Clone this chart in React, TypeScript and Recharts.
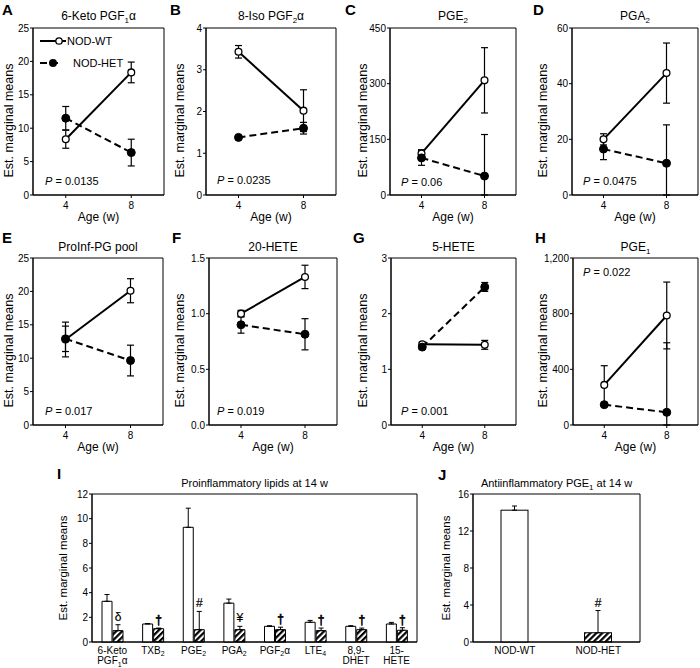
import React from "react";
import {
  LineChart,
  Line,
  BarChart,
  Bar,
  XAxis,
  YAxis,
  ErrorBar,
  Legend,
  LabelList,
  CartesianGrid,
} from "recharts";

const FONT = '"Liberation Sans", Arial, Helvetica, sans-serif';

// sampling ages (weeks) for the time-course panels
const AGES = [4, 8];

// A: 6-Keto PGF1α
const KETO_WT = [8.35, 18.35];
const KETO_WT_ERR = [1.35, 1.55];
const KETO_HET = [11.5, 6.35];
const KETO_HET_ERR = [1.75, 2.0];

// B: 8-Iso PGF2α
const ISO_WT = [3.43, 2.02];
const ISO_WT_ERR = [0.15, 0.5];
const ISO_HET = [1.38, 1.6];
const ISO_HET_ERR = [0.03, 0.14];

// C: PGE2
const PGE2_WT = [112, 309];
const PGE2_WT_ERR = [10, 88];
const PGE2_HET = [100, 51];
const PGE2_HET_ERR = [20, 112];

// D: PGA2
const PGA2_WT = [20, 43.8];
const PGA2_WT_ERR = [2, 10.8];
const PGA2_HET = [16.5, 11.4];
const PGA2_HET_ERR = [3.8, 13.8];

// E: ProInf-PG pool
const POOL_WT = [12.8, 20.1];
const POOL_WT_ERR = [2.6, 1.8];
const POOL_HET = [12.9, 9.65];
const POOL_HET_ERR = [1.9, 2.3];

// F: 20-HETE
const HETE20_WT = [1.0, 1.33];
const HETE20_WT_ERR = [0.03, 0.105];
const HETE20_HET = [0.9, 0.815];
const HETE20_HET_ERR = [0.075, 0.14];

// G: 5-HETE
const HETE5_WT = [1.45, 1.44];
const HETE5_WT_ERR = [0.04, 0.08];
const HETE5_HET = [1.4, 2.48];
const HETE5_HET_ERR = [0.03, 0.08];

// H: PGE1
const PGE1_WT = [288, 787];
const PGE1_WT_ERR = [138, 240];
const PGE1_HET = [146, 91];
const PGE1_HET_ERR = [10, 500];

// I: proinflammatory lipids at 14 w ("|" splits lines, "_x" is a subscript)
const LIPIDS = [
  "6-Keto|PGF_1α",
  "TXB_2",
  "PGE_2",
  "PGA_2",
  "PGF_2α",
  "LTE_4",
  "8,9-|DHET",
  "15-|HETE",
];
const LIPID_WT = [3.3, 1.46, 9.3, 3.15, 1.27, 1.6, 1.27, 1.46];
const LIPID_WT_ERR = [0.55, 0.04, 1.55, 0.33, 0.05, 0.15, 0.05, 0.13];
const LIPID_HET = [0.92, 1.08, 1.0, 1.0, 1.0, 0.92, 1.0, 0.95];
const LIPID_HET_ERR = [0.48, 0.05, 1.48, 0.27, 0.2, 0.21, 0.13, 0.21];
const LIPID_MARKS = ["δ", "†", "#", "¥", "†", "†", "†", "†"];

// J: antiinflammatory PGE1 at 14 w
const GENOTYPES = ["NOD-WT", "NOD-HET"];
const PGE1_14W = [14.25, 1.0];
const PGE1_14W_ERR = [0.45, 2.4];
const PGE1_14W_MARKS = ["", "#"];

// error bars never run below the axis
const errSpan = (v: number, e: number) => [Math.min(v, e), e];

function ageRows(wt: number[], wtErr: number[], het: number[], hetErr: number[]) {
  return AGES.map((age, i) => ({
    age,
    wt: wt[i],
    wtErr: errSpan(wt[i], wtErr[i]),
    het: het[i],
    hetErr: errSpan(het[i], hetErr[i]),
  }));
}

function richText(s: string, size: number) {
  const parts = s.split(/_(.)/);
  return parts.map((p, i) =>
    i % 2 === 1 ? (
      <tspan key={i} dy={2.5} fontSize={size * 0.7}>
        {p}
      </tspan>
    ) : (
      <tspan key={i} dy={i === 0 ? 0 : -2.5}>
        {p}
      </tspan>
    ),
  );
}

function YTitle(props: any) {
  const vb = props.viewBox || { x: 0, y: 0, height: 0 };
  const cx = vb.x + props.inset;
  const cy = vb.y + vb.height / 2 + (props.shift || 0);
  return (
    <text
      x={cx}
      y={cy}
      transform={`rotate(-90 ${cx} ${cy})`}
      textAnchor="middle"
      dominantBaseline="central"
      fontSize={props.size}
      fontFamily={FONT}
      fill="#000"
    >
      Est. marginal means
    </text>
  );
}

// box around the plot area: grid lines only at the plot edges
const edgeRows = (p: any) => [p.offset.top, p.offset.top + p.offset.height];
const edgeCols = (p: any) => [p.offset.left, p.offset.left + p.offset.width];

function GenotypeKey() {
  return (
    <svg width={100} height={40} style={{ display: "block" }}>
      <line x1={2} x2={28} y1={8} y2={8} stroke="#000" strokeWidth={2} />
      <circle cx={21} cy={8} r={3.2} fill="#fff" stroke="#000" strokeWidth={1.3} />
      <text x={29} y={12} fontSize={11} fontFamily={FONT} fill="#000">
        NOD-WT
      </text>
      <line
        x1={2}
        x2={24}
        y1={30}
        y2={30}
        stroke="#000"
        strokeWidth={2}
        strokeDasharray="7 4"
      />
      <circle cx={15} cy={30} r={4} fill="#000" />
      <text x={35} y={34} fontSize={11} fontFamily={FONT} fill="#000">
        NOD-HET
      </text>
    </svg>
  );
}

const tickStyle = { fill: "#000", fontSize: 10, fontFamily: FONT };
const Y_W = 40;

interface AgePanelProps {
  x: number;
  y: number;
  w: number;
  h: number;
  rows: ReturnType<typeof ageRows>;
  max: number;
  ticks: number[];
  fmt?: (v: number) => string;
  inset: number;
  legend?: boolean;
}

function AgePanel({ x, y, w, h, rows, max, ticks, fmt, inset, legend }: AgePanelProps) {
  return (
    <div style={{ position: "absolute", left: x - Y_W, top: y - 8 }}>
      <LineChart
        width={Y_W + w + 2}
        height={8 + h + 30}
        data={rows}
        margin={{ top: 8, right: 2, bottom: 0, left: 0 }}
      >
        <CartesianGrid
          stroke="#000"
          horizontalCoordinatesGenerator={edgeRows}
          verticalCoordinatesGenerator={edgeCols}
        />
        <XAxis
          dataKey="age"
          type="number"
          domain={[2, 10]}
          ticks={AGES}
          height={30}
          stroke="#000"
          tick={tickStyle}
          tickSize={3}
          tickMargin={4}
          label={{
            value: "Age (w)",
            position: "insideBottom",
            offset: 4,
            fill: "#000",
            fontSize: 12,
            fontFamily: FONT,
          }}
        />
        <YAxis
          type="number"
          domain={[0, max]}
          ticks={ticks}
          allowDataOverflow
          width={Y_W}
          stroke="#000"
          tick={tickStyle}
          tickSize={3}
          tickMargin={1}
          tickFormatter={fmt}
          label={<YTitle inset={inset} shift={9} size={12.5} />}
        />
        <Line
          dataKey="wt"
          name="NOD-WT"
          type="linear"
          stroke="#000"
          strokeWidth={2}
          dot={{ r: 3.4, fill: "#fff", stroke: "#000", strokeWidth: 1.3 }}
          isAnimationActive={false}
        >
          <ErrorBar dataKey="wtErr" direction="y" width={3.5} stroke="#000" strokeWidth={1.2} />
        </Line>
        <Line
          dataKey="het"
          name="NOD-HET"
          type="linear"
          stroke="#000"
          strokeWidth={2}
          strokeDasharray="7 4"
          dot={{ r: 4, fill: "#000", stroke: "#000", strokeWidth: 1, strokeDasharray: "" }}
          isAnimationActive={false}
        >
          <ErrorBar dataKey="hetErr" direction="y" width={3.5} stroke="#000" strokeWidth={1.2} />
        </Line>
        {legend && (
          <Legend
            layout="vertical"
            align="center"
            verticalAlign="middle"
            wrapperStyle={{ left: 45, top: 13, width: 100 }}
            content={() => <GenotypeKey />}
          />
        )}
      </LineChart>
    </div>
  );
}

function CategoryTick(props: any) {
  const { x, y, payload } = props;
  const lines = String(payload.value).split("|");
  return (
    <g>
      {lines.map((ln, i) => (
        <text
          key={i}
          x={x}
          y={y + 11.5 + i * 10.5}
          textAnchor="middle"
          fontSize={10}
          fontFamily={FONT}
          fill="#000"
        >
          {richText(ln, 10)}
        </text>
      ))}
    </g>
  );
}

// significance symbol just above the top of the bar's error whisker
function markContent(rows: { mark: string; het: number; hetErr: number[] }[]) {
  return (props: any) => {
    const vb = props.viewBox || props;
    const row = rows[props.index];
    if (!row || !row.mark) return null;
    const bx = Number(vb.x);
    const by = Number(vb.y);
    const bw = Number(vb.width);
    const bh = Number(vb.height);
    const capY = by - (bh / row.het) * row.hetErr[1];
    return (
      <text
        x={bx + bw / 2}
        y={capY - 4}
        textAnchor="middle"
        fontSize={12}
        fontFamily={FONT}
        fill="#000"
        stroke="#000"
        strokeWidth={row.mark === "†" ? 0.6 : 0.2}
      >
        {row.mark}
      </text>
    );
  };
}

const lipidRows = LIPIDS.map((name, i) => ({
  name,
  wt: LIPID_WT[i],
  wtErr: [0, LIPID_WT_ERR[i]],
  het: LIPID_HET[i],
  hetErr: [0, LIPID_HET_ERR[i]],
  mark: LIPID_MARKS[i],
}));

const pge1Rows = GENOTYPES.map((name, i) => ({
  name,
  value: PGE1_14W[i],
  err: [0, PGE1_14W_ERR[i]],
  het: PGE1_14W[i],
  hetErr: [0, PGE1_14W_ERR[i]],
  mark: PGE1_14W_MARKS[i],
}));

function Letter({ x, y, children }: { x: number; y: number; children: React.ReactNode }) {
  return (
    <div style={{ position: "absolute", left: x, top: y, fontSize: 15, fontWeight: "bold", lineHeight: "15px", fontFamily: FONT }}>
      {children}
    </div>
  );
}

function Title({ x, w, cy, size = 12, children }: { x: number; w: number; cy: number; size?: number; children: React.ReactNode }) {
  return (
    <div
      style={{
        position: "absolute",
        left: x,
        width: w,
        top: cy - 8,
        lineHeight: "16px",
        fontSize: size,
        textAlign: "center",
        whiteSpace: "nowrap",
        fontFamily: FONT,
      }}
    >
      {children}
    </div>
  );
}

function PValue({ x, cy, value }: { x: number; cy: number; value: string }) {
  return (
    <div style={{ position: "absolute", left: x, top: cy - 7, lineHeight: "14px", fontSize: 11, whiteSpace: "nowrap", fontFamily: FONT }}>
      <i>P</i> = {value}
    </div>
  );
}

const Sub = ({ children }: { children: React.ReactNode }) => (
  <span style={{ fontSize: 8, position: "relative", top: 3 }}>{children}</span>
);

const plain = (v: number) => String(v);
const oneDecimal = (v: number) => v.toFixed(1);
const thousands = (v: number) => v.toLocaleString("en-US");

export default function App() {
  return (
    <div
      style={{
        position: "absolute",
        left: 0,
        top: 0,
        width: 700,
        height: 668,
        background: "#fff",
        fontFamily: FONT,
        color: "#000",
      }}
    >
      <svg width={0} height={0} style={{ position: "absolute" }}>
        <defs>
          <pattern id="hatch" patternUnits="userSpaceOnUse" width={4.2} height={4.2} patternTransform="rotate(45)">
            <rect width={2.2} height={4.2} fill="#000" />
          </pattern>
        </defs>
      </svg>

      {/* top row */}
      <Letter x={2} y={2}>A</Letter>
      <Title x={33} w={131} cy={16}>
        6-Keto PGF<Sub>1</Sub>α
      </Title>
      <AgePanel x={33} y={28} w={131} h={167} rows={ageRows(KETO_WT, KETO_WT_ERR, KETO_HET, KETO_HET_ERR)} max={25} ticks={[0, 5, 10, 15, 20, 25]} fmt={plain} inset={16} legend />
      <PValue x={45} cy={181} value="0.0135" />

      <Letter x={170} y={2}>B</Letter>
      <Title x={206} w={130} cy={16}>
        8-Iso PGF<Sub>2</Sub>α
      </Title>
      <AgePanel x={206} y={28} w={130} h={167} rows={ageRows(ISO_WT, ISO_WT_ERR, ISO_HET, ISO_HET_ERR)} max={4} ticks={[0, 1, 2, 3, 4]} fmt={plain} inset={14} />
      <PValue x={217} cy={180} value="0.0235" />

      <Letter x={345} y={2}>C</Letter>
      <Title x={390} w={126} cy={16}>
        PGE<Sub>2</Sub>
      </Title>
      <AgePanel x={390} y={28} w={126} h={167} rows={ageRows(PGE2_WT, PGE2_WT_ERR, PGE2_HET, PGE2_HET_ERR)} max={450} ticks={[0, 150, 300, 450]} fmt={plain} inset={12.5} />
      <PValue x={401} cy={181.5} value="0.06" />

      <Letter x={533} y={2}>D</Letter>
      <Title x={572} w={126} cy={16}>
        PGA<Sub>2</Sub>
      </Title>
      <AgePanel x={572} y={28} w={126} h={167} rows={ageRows(PGA2_WT, PGA2_WT_ERR, PGA2_HET, PGA2_HET_ERR)} max={60} ticks={[0, 20, 40, 60]} fmt={plain} inset={11} />
      <PValue x={583} cy={180.5} value="0.0475" />

      {/* second row */}
      <Letter x={2} y={230}>E</Letter>
      <Title x={33} w={130} cy={247}>ProInf-PG pool</Title>
      <AgePanel x={33} y={258} w={130} h={167} rows={ageRows(POOL_WT, POOL_WT_ERR, POOL_HET, POOL_HET_ERR)} max={25} ticks={[0, 5, 10, 15, 20, 25]} fmt={plain} inset={16} />
      <PValue x={45} cy={411} value="0.017" />

      <Letter x={172} y={230}>F</Letter>
      <Title x={209} w={128} cy={247}>20-HETE</Title>
      <AgePanel x={209} y={258} w={128} h={167} rows={ageRows(HETE20_WT, HETE20_WT_ERR, HETE20_HET, HETE20_HET_ERR)} max={1.5} ticks={[0, 0.5, 1, 1.5]} fmt={oneDecimal} inset={11} />
      <PValue x={217} cy={411} value="0.019" />

      <Letter x={353} y={230}>G</Letter>
      <Title x={391} w={125} cy={247}>5-HETE</Title>
      <AgePanel x={391} y={258} w={125} h={167} rows={ageRows(HETE5_WT, HETE5_WT_ERR, HETE5_HET, HETE5_HET_ERR)} max={3} ticks={[0, 1, 2, 3]} fmt={plain} inset={12} />
      <PValue x={401} cy={411} value="0.001" />

      <Letter x={535} y={230}>H</Letter>
      <Title x={573} w={125} cy={247}>
        PGE<Sub>1</Sub>
      </Title>
      <AgePanel x={573} y={258} w={125} h={167} rows={ageRows(PGE1_WT, PGE1_WT_ERR, PGE1_HET, PGE1_HET_ERR)} max={1200} ticks={[0, 400, 800, 1200]} fmt={thousands} inset={9.5} />
      <PValue x={583} cy={272} value="0.022" />

      {/* bottom row: I */}
      <Letter x={57} y={466}>I</Letter>
      <Title x={92} w={325} cy={483} size={11}>
        Proinflammatory lipids at 14 w
      </Title>
      <div style={{ position: "absolute", left: 92 - Y_W, top: 486 }}>
        <BarChart
          width={Y_W + 325 + 1}
          height={8 + 148 + 26}
          data={lipidRows}
          margin={{ top: 8, right: 1, bottom: 0, left: 0 }}
          barSize={10}
          barGap={1}
        >
          <CartesianGrid
            stroke="#000"
            horizontalCoordinatesGenerator={edgeRows}
            verticalCoordinatesGenerator={edgeCols}
          />
          <XAxis dataKey="name" interval={0} height={26} stroke="#000" tickLine={false} tickSize={0} tickMargin={0} tick={<CategoryTick />} />
          <YAxis
            type="number"
            domain={[0, 12]}
            ticks={[0, 2, 4, 6, 8, 10, 12]}
            width={Y_W}
            stroke="#000"
            tick={tickStyle}
            tickSize={3}
            tickMargin={1}
            label={<YTitle inset={11} shift={0} size={11.5} />}
          />
          <Bar dataKey="wt" fill="#fff" stroke="#000" strokeWidth={1} isAnimationActive={false}>
            <ErrorBar dataKey="wtErr" direction="y" width={2.5} stroke="#000" strokeWidth={1} />
          </Bar>
          <Bar dataKey="het" fill="url(#hatch)" stroke="#000" strokeWidth={1} isAnimationActive={false}>
            <ErrorBar dataKey="hetErr" direction="y" width={2.5} stroke="#000" strokeWidth={1} />
            <LabelList dataKey="mark" content={markContent(lipidRows)} />
          </Bar>
        </BarChart>
      </div>

      {/* bottom row: J */}
      <Letter x={438} y={467}>J</Letter>
      <Title x={473} w={167} cy={483} size={11}>
        Antiinflammatory PGE<Sub>1</Sub> at 14 w
      </Title>
      <div style={{ position: "absolute", left: 473 - Y_W, top: 486 }}>
        <BarChart
          width={Y_W + 167 + 1}
          height={8 + 148 + 26}
          data={pge1Rows}
          margin={{ top: 8, right: 1, bottom: 0, left: 0 }}
          barSize={27}
        >
          <CartesianGrid
            stroke="#000"
            horizontalCoordinatesGenerator={edgeRows}
            verticalCoordinatesGenerator={edgeCols}
          />
          <XAxis dataKey="name" interval={0} height={26} stroke="#000" tickLine={false} tickSize={0} tickMargin={0} tick={<CategoryTick />} />
          <YAxis
            type="number"
            domain={[0, 16]}
            ticks={[0, 4, 8, 12, 16]}
            width={Y_W}
            stroke="#000"
            tick={tickStyle}
            tickSize={3}
            tickMargin={1}
            label={<YTitle inset={13} shift={0} size={11.5} />}
          />
          <Bar
            dataKey="value"
            stroke="#000"
            strokeWidth={1}
            isAnimationActive={false}
            shape={(p: any) => (
              <rect
                x={p.x}
                y={p.y}
                width={p.width}
                height={p.height}
                stroke="#000"
                strokeWidth={1}
                fill={p.index === 1 ? "url(#hatch)" : "#fff"}
              />
            )}
          >
            <ErrorBar dataKey="err" direction="y" width={2.5} stroke="#000" strokeWidth={1} />
            <LabelList dataKey="mark" content={markContent(pge1Rows)} />
          </Bar>
        </BarChart>
      </div>
    </div>
  );
}
